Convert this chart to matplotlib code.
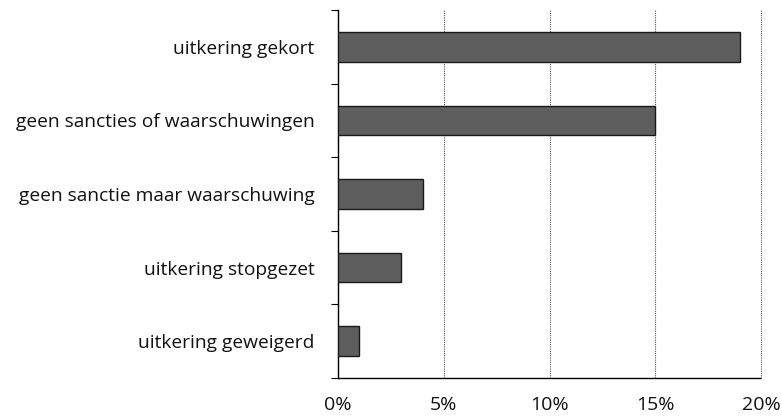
import matplotlib
matplotlib.use("Agg")
import matplotlib.pyplot as plt
import numpy as np

categories = ["uitkering gekort", "geen sancties of waarschuwingen",
              "geen sanctie maar waarschuwing", "uitkering stopgezet",
              "uitkering geweigerd"]
values = [19, 15, 4, 3, 1]
xticks = [0, 5, 10, 15, 20]
xticklabels = ["0%", "5%", "10%", "15%", "20%"]

plt.rcParams['font.family'] = ['Open Sans', 'DejaVu Sans']

fig = plt.figure(figsize=(7.82, 4.19), dpi=100)
ax = fig.add_axes([338/782, 1 - 378/419, (761-338)/782, (378-10)/419])

n = len(categories)
y = np.arange(n)[::-1]
ax.barh(y, values, height=0.4, color="#5e5e5e", edgecolor="#1a1a1a", linewidth=1.0, zorder=3)

ax.set_xlim(0, 20)
ax.set_ylim(-0.5, n - 0.5)
ax.set_xticks(xticks)
ax.set_xticklabels(xticklabels, fontsize=14, color="#111111", fontweight="medium")
ax.set_yticks(y)
ax.set_yticklabels(categories, fontsize=13.8, color="#111111", fontweight="medium")
ax.tick_params(axis='y', length=0, pad=17)
ax.tick_params(axis='x', length=0, pad=13)

# boundary tick marks
ax.set_yticks(np.arange(-0.5, n, 1), minor=True)
ax.tick_params(axis='y', which='minor', length=5, width=0.8, direction='out')
ax.set_xticks(xticks, minor=True)
ax.tick_params(axis='x', which='minor', length=5, width=0.8, direction='out')

ax.grid(axis='x', which='major', linestyle=(0, (1, 1)), color="#555555", linewidth=0.8, zorder=0)
for gl in ax.get_xgridlines():
    gl.set_clip_on(False)
for s in ["top", "right"]:
    ax.spines[s].set_visible(False)
ax.spines["left"].set_linewidth(1.0)
ax.spines["bottom"].set_linewidth(1.0)
ax.spines["bottom"].set_linestyle((0, (4, 1)))

fig.savefig("out.png", dpi=100)
